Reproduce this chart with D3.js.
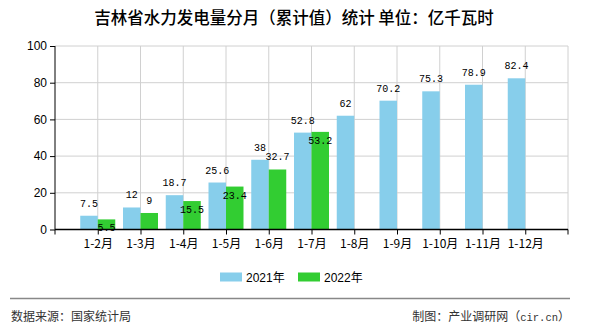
<!DOCTYPE html>
<html><head><meta charset="utf-8">
<script src="https://cdn.jsdelivr.net/npm/d3@7"></script>
<style>
html,body{margin:0;padding:0;background:#fff;}
svg{display:block;}
</style></head>
<body>
<svg id="c" width="590" height="330"></svg>
<script>
const title = "吉林省水力发电量分月（累计值）统计 单位：亿千瓦时";
const categories = ["1-2月","1-3月","1-4月","1-5月","1-6月","1-7月","1-8月","1-9月","1-10月","1-11月","1-12月"];
const seriesNames = ["2021年","2022年"];
const values2021 = [7.5, 12, 18.7, 25.6, 38, 52.8, 62, 70.2, 75.3, 78.9, 82.4];
const values2022 = [5.5, 9, 15.5, 23.4, 32.7, 53.2];
const yTicks = [0, 20, 40, 60, 80, 100];
const sourceText = "数据来源：国家统计局";
const creditParts = ["制图：产业调研网（", "cir.cn", "）"];

const colors = ["#87CEEB", "#32CD32"];
const svg = d3.select("#c");
const L = 55, R = 568, T = 46, B = 229.5;
const cjk = "'Noto Sans CJK SC', sans-serif";
const mono = "'Liberation Mono', 'DejaVu Sans Mono', monospace";

const x = d3.scalePoint().domain(categories).range([L, R]).padding(1);
const bw = 17.5;
const xs = d3.scaleBand().domain(seriesNames).range([-bw, bw]);
const y = d3.scaleLinear().domain([0, 100]).range([B, T]);

// title
svg.append("text").attr("x", 294).attr("y", 24).attr("text-anchor", "middle")
  .attr("font-family", cjk).attr("font-size", 16.5).attr("font-weight", 500).attr("fill", "#000").text(title);

// grid
const g = svg.append("g");
g.selectAll("line.h").data(yTicks.filter(d => d > 0)).join("line")
  .attr("x1", L).attr("x2", R).attr("y1", d => y(d)).attr("y2", d => y(d))
  .attr("stroke", "#d0d0d0").attr("stroke-width", 1);
g.selectAll("line.v").data(categories.map(c => x(c)).concat([R])).join("line")
  .attr("x1", d => d).attr("x2", d => d).attr("y1", T).attr("y2", B)
  .attr("stroke", "#d0d0d0").attr("stroke-width", 1);

// bars
const data = [values2021, values2022];
data.forEach((vals, si) => {
  svg.append("g").selectAll("rect").data(vals).join("rect")
    .attr("x", (d, i) => x(categories[i]) + xs(seriesNames[si]))
    .attr("width", xs.bandwidth())
    .attr("y", d => y(d)).attr("height", d => B - y(d))
    .attr("fill", colors[si]);
});

// axes
const yAxis = svg.append("g").attr("transform", `translate(${L},0)`)
  .call(d3.axisLeft(y).tickValues(yTicks).tickSize(5).tickPadding(3).tickFormat(d3.format("d")));
yAxis.select(".domain").attr("stroke", "#000").attr("d", `M0,${B}V${T}`);
yAxis.selectAll(".tick line").attr("stroke", "#000");
yAxis.selectAll(".tick text").attr("font-family", "'Liberation Sans', Arial, sans-serif").attr("font-size", 12).attr("fill", "#000");

const xAxis = svg.append("g").attr("transform", `translate(0,${B})`)
  .call(d3.axisBottom(x).tickSize(5).tickPadding(5));
xAxis.select(".domain").attr("stroke", "#000").attr("stroke-width", 1.3).attr("d", `M${L},0H${R}`);
xAxis.selectAll(".tick line").attr("stroke", "#000");
xAxis.selectAll(".tick text").attr("font-family", cjk).attr("font-size", 12).attr("fill", "#000");
[L, R].forEach(px => xAxis.append("line").attr("x1", px).attr("x2", px).attr("y1", 0).attr("y2", 5).attr("stroke", "#000"));

// labels
const lab = svg.append("g").attr("font-family", mono).attr("font-size", 10).attr("fill", "#000").attr("text-anchor", "middle");
const box = b => ({x: b.x - 1, y: b.y + 2, w: b.width + 2, h: b.height - 4});
const boxes2021 = [];
values2021.forEach((v, i) => {
  const t = lab.append("text")
    .attr("x", x(categories[i]) + xs(seriesNames[0]) + xs.bandwidth() / 2)
    .attr("y", y(v) - 9).text(v);
  boxes2021.push(box(t.node().getBBox()));
});
values2022.forEach((v, i) => {
  const t = lab.append("text")
    .attr("x", x(categories[i]) + xs(seriesNames[1]) + xs.bandwidth() / 2)
    .attr("y", y(v) - 9).text(v);
  const b = box(t.node().getBBox());
  const o = boxes2021[i];
  const overlap = b.x < o.x + o.w && o.x < b.x + b.w && b.y < o.y + o.h && o.y < b.y + b.h;
  if (overlap) t.attr("y", y(v) + 12);
});

// legend
const leg = svg.append("g");
const legX = [220, 298];
seriesNames.forEach((s, i) => {
  leg.append("rect").attr("x", legX[i]).attr("y", 272.5).attr("width", 22).attr("height", 9).attr("fill", colors[i]);
  leg.append("text").attr("x", legX[i] + 26).attr("y", 282).attr("font-family", "'Liberation Sans', Arial, " + cjk)
    .attr("font-size", 12).attr("fill", "#000").text(s);
});

// footer
svg.append("line").attr("x1", 10).attr("x2", 570).attr("y1", 298.5).attr("y2", 298.5).attr("stroke", "#888").attr("stroke-width", 1.3);
svg.append("text").attr("x", 11).attr("y", 321).attr("font-family", cjk).attr("font-size", 12).attr("fill", "#333").text(sourceText);
const cr = svg.append("text").attr("x", 570).attr("y", 321).attr("text-anchor", "end").attr("font-family", cjk).attr("font-size", 12).attr("fill", "#333");
cr.append("tspan").text(creditParts[0]);
cr.append("tspan").attr("font-family", mono).attr("font-size", 10.5).text(creditParts[1]);
cr.append("tspan").text(creditParts[2]);
</script>
</body></html>
